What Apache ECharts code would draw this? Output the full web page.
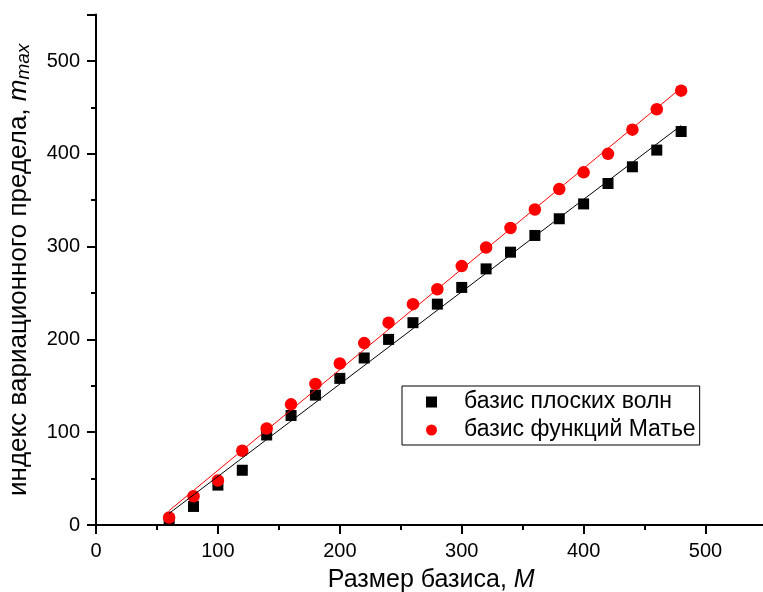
<!DOCTYPE html>
<html>
<head>
<meta charset="utf-8">
<script src="https://cdn.jsdelivr.net/npm/echarts@6/dist/echarts.min.js"></script>
<style>
html,body{margin:0;padding:0;background:#fff;}
#chart{width:763px;height:592px;}
</style>
</head>
<body>
<div id="chart"></div>
<script>
var basisSize = [60,80,100,120,140,160,180,200,220,240,260,280,300,320,340,360,380,400,420,440,460,480];
var planeWaves = [5,20,43,59,97,118,140,158,180,200,218,238,256,276,294,312,330,346,368,386,404,424];
var mathieu = [8,31,48,80,104,130,152,174,196,218,238,254,279,299,320,340,362,380,400,426,448,468];
var fitPlane = [[60,12.5],[480,430.5]];
var fitMathieu = [[60,15.5],[480,471]];
var seriesNames = ['базис плоских волн','базис функций Матье'];

function pairs(xs, ys){ return xs.map(function(x,i){return [x, ys[i]];}); }

var font = 'Liberation Sans, Arial, sans-serif';
var chart = echarts.init(document.getElementById('chart'));
chart.setOption({
  animation:false,
  backgroundColor:'#fff',
  textStyle:{fontFamily:font},
  grid:{left:96, top:14.6, width:670.5, height:510.4, containLabel:false, outerBoundsMode:'none'},
  legend:{
    left:402, top:386, orient:'vertical',
    data:[{name:seriesNames[0], icon:'rect'},{name:seriesNames[1], icon:'circle'}],
    itemWidth:11, itemHeight:11, itemGap:4,
    borderColor:'#000', borderWidth:1, borderRadius:0,
    padding:[4,4,3,24],
    textStyle:{fontSize:23, color:'#000', fontFamily:font, lineHeight:24, padding:[0,0,0,22]}
  },
  xAxis:{
    type:'value', min:0, max:550, interval:100,
    name:'Размер базиса, {i|M}', nameLocation:'middle', nameGap:43,
    nameTextStyle:{fontSize:25, color:'#000', fontFamily:font,
      rich:{i:{fontSize:25, fontStyle:'italic', color:'#000', fontFamily:font}}},
    axisLine:{onZero:false, lineStyle:{color:'#000', width:2}},
    axisTick:{show:true, inside:false, length:9, lineStyle:{color:'#000', width:2}},
    minorTick:{show:true, splitNumber:2, length:5, lineStyle:{color:'#000', width:2}},
    axisLabel:{fontSize:20, color:'#000', margin:16, fontFamily:font,
      formatter:function(v){return v%100===0 && v<=500 ? String(v) : '';}},
    splitLine:{show:false}
  },
  yAxis:{
    type:'value', min:0, max:550, interval:100,
    name:'индекс вариационного предела, {i|m}{s|max}', nameLocation:'middle', nameGap:63,
    nameTextStyle:{fontSize:26, color:'#000', fontFamily:font,
      rich:{i:{fontSize:26, fontStyle:'italic', color:'#000', fontFamily:font},
            s:{fontSize:19, fontStyle:'italic', color:'#000', fontFamily:font, verticalAlign:'bottom', padding:[10,0,0,0]}}},
    axisLine:{onZero:false, lineStyle:{color:'#000', width:2}},
    axisTick:{show:true, inside:false, length:9, lineStyle:{color:'#000', width:2}},
    minorTick:{show:true, splitNumber:2, length:5, lineStyle:{color:'#000', width:2}},
    axisLabel:{fontSize:20, color:'#000', margin:16, fontFamily:font,
      formatter:function(v){return v%100===0 && v<=500 ? String(v) : '';}},
    splitLine:{show:false}
  },
  series:[
    {name:seriesNames[0], type:'scatter', data:pairs(basisSize, planeWaves), symbol:'rect', symbolSize:11,
      itemStyle:{color:'#000', opacity:1}, z:2},
    {name:seriesNames[1], type:'scatter', data:pairs(basisSize, mathieu), symbol:'circle', symbolSize:12.5,
      itemStyle:{color:'#ff0000', opacity:1}, z:2},
    {name:'fit1', type:'line', data:fitPlane, symbol:'none', lineStyle:{color:'#000', width:1}, z:3, silent:true},
    {name:'fit2', type:'line', data:fitMathieu, symbol:'none', lineStyle:{color:'#ff0000', width:1}, z:3, silent:true}
  ]
});
</script>
</body>
</html>
